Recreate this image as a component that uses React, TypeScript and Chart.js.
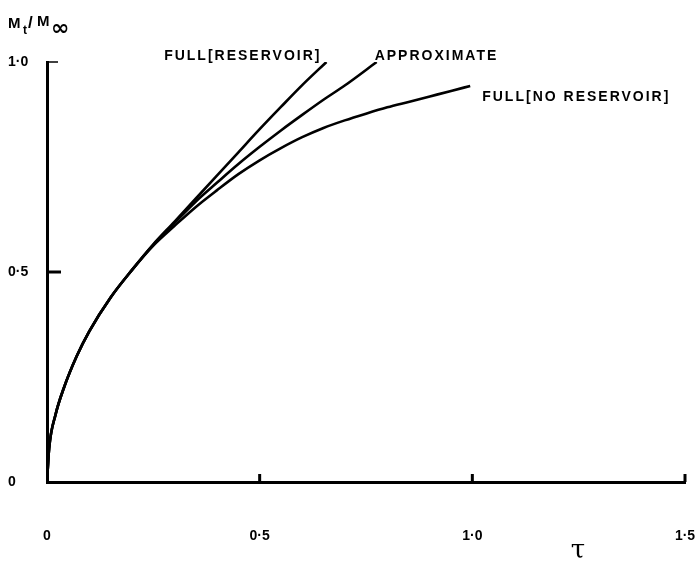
import React, { useEffect, useRef } from "react";
import { Chart, registerables } from "chart.js";

Chart.register(...registerables);

// ---- data ----
const reservoirTau = [0, 0.005, 0.02, 0.04, 0.07, 0.1, 0.15, 0.2, 0.25, 0.3, 0.35, 0.4, 0.45, 0.5, 0.55, 0.6, 0.657];
const reservoirM = [0, 0.08, 0.16, 0.225, 0.3, 0.36, 0.44, 0.505, 0.566, 0.62, 0.675, 0.73, 0.785, 0.84, 0.893, 0.945, 1.0];

const approxTau = [0, 0.005, 0.02, 0.04, 0.07, 0.1, 0.15, 0.2, 0.25, 0.3, 0.35, 0.4, 0.45, 0.5, 0.55, 0.6, 0.65, 0.7, 0.775];
const approxM = [0, 0.08, 0.16, 0.225, 0.3, 0.36, 0.44, 0.505, 0.565, 0.617, 0.668, 0.713, 0.757, 0.798, 0.837, 0.874, 0.91, 0.944, 1.0];

const noResTau = [0, 0.005, 0.02, 0.04, 0.07, 0.1, 0.15, 0.2, 0.25, 0.3, 0.35, 0.4, 0.45, 0.5, 0.55, 0.6, 0.65, 0.7, 0.75, 0.8, 0.85, 0.9, 0.95, 0.995];
const noResM = [0, 0.08, 0.16, 0.225, 0.3, 0.36, 0.44, 0.505, 0.563, 0.61, 0.655, 0.695, 0.733, 0.766, 0.795, 0.821, 0.843, 0.861, 0.877, 0.892, 0.905, 0.918, 0.931, 0.943];

const seriesNames = ["FULL[RESERVOIR]", "APPROXIMATE", "FULL[NO RESERVOIR]"];

const xTickValues = [0, 0.5, 1.0, 1.5];
const xTickLabels = ["0", "0·5", "1·0", "1·5"];
const yTickValues = [0, 0.5, 1.0];
const yTickLabels = ["0", "0·5", "1·0"];

const toPoints = (xs: number[], ys: number[]) => xs.map((x, i) => ({ x, y: ys[i] }));

const INK = "#000";
const SANS = "'Liberation Sans', 'DejaVu Sans', sans-serif";
const LABEL_FONT = `bold 14px ${SANS}`;

const decorPlugin = {
  id: "decor",
  afterDraw(chart: any) {
    const { ctx, scales } = chart;
    const xs = scales.x;
    const ys = scales.y;
    const x0 = xs.getPixelForValue(0);
    const y0 = ys.getPixelForValue(0);
    ctx.save();
    ctx.strokeStyle = INK;
    ctx.fillStyle = INK;
    // inward ticks
    ctx.lineWidth = 3;
    xTickValues.forEach((v) => {
      if (v === 0) return;
      const px = xs.getPixelForValue(v);
      ctx.beginPath();
      ctx.moveTo(px, y0);
      ctx.lineTo(px, y0 - 8);
      ctx.stroke();
    });
    yTickValues.forEach((v) => {
      if (v === 0) return;
      const py = ys.getPixelForValue(v);
      ctx.lineWidth = v === 1 ? 1.5 : 3;
      ctx.beginPath();
      ctx.moveTo(x0, py);
      ctx.lineTo(x0 + (v === 1 ? 11 : 14), py);
      ctx.stroke();
    });

    // series labels
    ctx.font = LABEL_FONT;
    (ctx as any).letterSpacing = "2px";
    ctx.textBaseline = "alphabetic";
    const endR = { x: xs.getPixelForValue(reservoirTau[reservoirTau.length - 1]), y: ys.getPixelForValue(reservoirM[reservoirM.length - 1]) };
    const endA = { x: xs.getPixelForValue(approxTau[approxTau.length - 1]), y: ys.getPixelForValue(approxM[approxM.length - 1]) };
    const endN = { x: xs.getPixelForValue(noResTau[noResTau.length - 1]), y: ys.getPixelForValue(noResM[noResM.length - 1]) };
    ctx.textAlign = "right";
    ctx.fillText(seriesNames[0], endR.x - 5, endR.y - 2);
    ctx.textAlign = "left";
    ctx.fillText(seriesNames[1], endA.x - 2, endA.y - 2);
    ctx.fillText(seriesNames[2], endN.x + 12, endN.y + 15);

    // axis titles
    (ctx as any).letterSpacing = "0px";
    ctx.font = `bold 15px ${SANS}`;
    ctx.fillText("M", 8, 28);
    ctx.font = `bold 12px ${SANS}`;
    ctx.fillText("t", 23, 34);
    ctx.font = `bold 17px ${SANS}`;
    ctx.fillText("/", 28, 28);
    ctx.font = `bold 15px ${SANS}`;
    ctx.fillText("M", 37, 26);
    ctx.font = `bold 22px 'DejaVu Sans', sans-serif`;
    ctx.fillText("∞", 51, 35);

    ctx.font = "26px 'DejaVu Serif', serif";
    ctx.textAlign = "center";
    ctx.fillText("τ", 578, 558);
    ctx.restore();
  },
};

export default function App() {
  const canvasRef = useRef<HTMLCanvasElement | null>(null);

  useEffect(() => {
    if (!canvasRef.current) return;
    const lineStyle = {
      borderColor: INK,
      borderWidth: 2.6,
      pointRadius: 0,
      fill: false,
      cubicInterpolationMode: "monotone" as const,
    };
    const chart = new Chart(canvasRef.current, {
      type: "line",
      data: {
        datasets: [
          { label: seriesNames[0], data: toPoints(reservoirTau, reservoirM), ...lineStyle },
          { label: seriesNames[1], data: toPoints(approxTau, approxM), ...lineStyle },
          { label: seriesNames[2], data: toPoints(noResTau, noResM), ...lineStyle },
        ],
      },
      options: {
        animation: false,
        responsive: true,
        maintainAspectRatio: false,
        layout: { autoPadding: false, padding: { left: 8, top: 62, right: 11, bottom: 0 } },
        plugins: { legend: { display: false }, tooltip: { enabled: false } },
        scales: {
          x: {
            type: "linear",
            min: 0,
            max: 1.5,
            afterBuildTicks: (s: any) => {
              s.ticks = xTickValues.map((value) => ({ value }));
            },
            afterFit: (s: any) => {
              s.height = 84;
              s.paddingLeft = 0;
              s.paddingRight = 0;
            },
            ticks: {
              color: INK,
              padding: 46,
              maxRotation: 0,
              autoSkip: false,
              font: { family: SANS, size: 14, weight: "bold" },
              callback: (v: any) => {
                const i = xTickValues.indexOf(Number(v));
                return i >= 0 ? xTickLabels[i] : "";
              },
            },
            grid: { display: false, drawTicks: false },
            border: { display: true, color: INK, width: 3 },
          },
          y: {
            type: "linear",
            min: 0,
            max: 1.0,
            afterBuildTicks: (s: any) => {
              s.ticks = yTickValues.map((value) => ({ value }));
            },
            afterFit: (s: any) => {
              s.width = 39;
              s.paddingTop = 0;
              s.paddingBottom = 0;
            },
            ticks: {
              color: INK,
              crossAlign: "far",
              autoSkip: false,
              font: { family: SANS, size: 14, weight: "bold" },
              callback: (v: any) => {
                const i = yTickValues.indexOf(Number(v));
                return i >= 0 ? yTickLabels[i] : "";
              },
            },
            grid: { display: false, drawTicks: false },
            border: { display: true, color: INK, width: 3 },
          },
        },
      },
      plugins: [decorPlugin],
    });
    return () => chart.destroy();
  }, []);

  return (
    <div style={{ position: "absolute", left: 0, top: 0, width: 696, height: 566, background: "#fff" }}>
      <canvas ref={canvasRef} />
    </div>
  );
}
